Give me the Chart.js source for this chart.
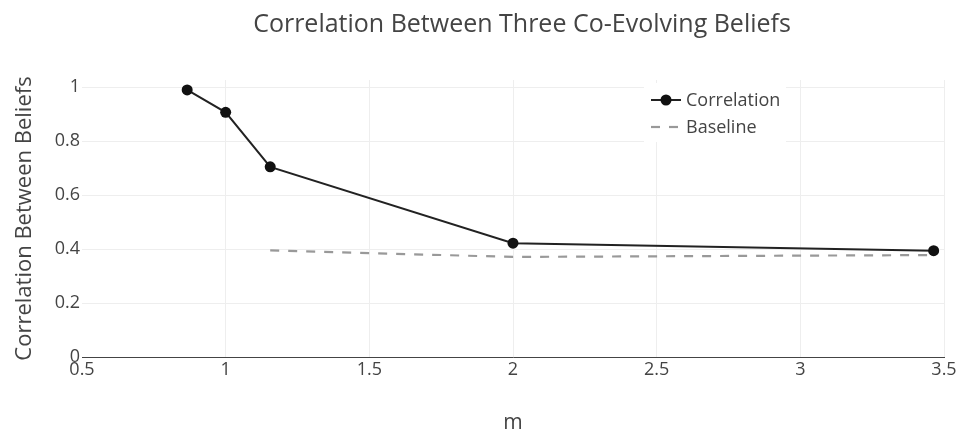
<!DOCTYPE html>
<html lang="en">
<head>
  <meta charset="UTF-8" />
  <title>Correlation Between Three Co-Evolving Beliefs</title>
  <style>
    body {
      margin: 0;
      background-color: #ffffff;
    }
    .wrap {
      width: 960px;
      height: 432px;
    }
  </style>
</head>
<body>
  <div class="wrap">
    <canvas id="corrChart" width="960" height="432"></canvas>
  </div>

  <script src="https://cdn.jsdelivr.net/npm/chart.js"></script>
  <script>
    // values
    const mValues = [0.866, 1.0, 1.155, 2.0, 3.464];
    const correlation = [0.99, 0.907, 0.705, 0.422, 0.394];
    const baselineM = [1.155, 2.0, 3.464];
    const baseline = [0.395, 0.371, 0.378];
    const xTicks = [0.5, 1, 1.5, 2, 2.5, 3, 3.5];
    const yTicks = [0, 0.2, 0.4, 0.6, 0.8, 1];
    const chartTitle = "Correlation Between Three Co-Evolving Beliefs";

    const FONT = "'Open Sans', sans-serif";
    const TEXT = "#444444";

    // title is centred a bit right of the canvas middle, like the original
    const topTitle = {
      id: "topTitle",
      afterDraw(chart) {
        const ctx = chart.ctx;
        ctx.save();
        ctx.fillStyle = TEXT;
        ctx.font = "25px " + FONT;
        ctx.textAlign = "center";
        ctx.textBaseline = "middle";
        ctx.fillText(chartTitle, 522, 25);
        ctx.restore();
      }
    };

    // plotly-like legend sitting inside the plot
    const insideLegend = {
      id: "insideLegend",
      afterDraw(chart) {
        const ctx = chart.ctx;
        ctx.save();
        ctx.fillStyle = "#ffffff";
        ctx.fillRect(644, 83, 142, 59);

        ctx.strokeStyle = "#222222";
        ctx.lineWidth = 2;
        ctx.beginPath();
        ctx.moveTo(651, 100);
        ctx.lineTo(681, 100);
        ctx.stroke();
        ctx.fillStyle = "#111111";
        ctx.beginPath();
        ctx.arc(666, 100, 5.5, 0, Math.PI * 2);
        ctx.fill();

        ctx.strokeStyle = "#999999";
        ctx.lineWidth = 2.2;
        ctx.setLineDash([9, 9]);
        ctx.beginPath();
        ctx.moveTo(651, 127);
        ctx.lineTo(681, 127);
        ctx.stroke();
        ctx.setLineDash([]);

        ctx.fillStyle = TEXT;
        ctx.font = "18px " + FONT;
        ctx.textBaseline = "middle";
        ctx.fillText("Correlation", 686, 101);
        ctx.fillText("Baseline", 686, 128);
        ctx.restore();
      }
    };

    const ctx = document.getElementById("corrChart").getContext("2d");
    new Chart(ctx, {
      type: "line",
      data: {
        datasets: [
          {
            label: "Correlation",
            data: mValues.map((m, i) => ({ x: m, y: correlation[i] })),
            borderColor: "#222222",
            backgroundColor: "#111111",
            borderWidth: 2,
            pointRadius: 5.5,
            pointBorderWidth: 0,
            tension: 0
          },
          {
            label: "Baseline",
            data: baselineM.map((m, i) => ({ x: m, y: baseline[i] })),
            borderColor: "#999999",
            borderWidth: 2.2,
            borderDash: [9, 9],
            pointRadius: 0,
            tension: 0
          }
        ]
      },
      options: {
        responsive: false,
        animation: false,
        layout: { padding: { left: 0, right: 16, top: 80, bottom: 0 } },
        plugins: {
          legend: { display: false },
          tooltip: { enabled: false },
          title: { display: false }
        },
        scales: {
          x: {
            type: "linear",
            min: 0.5,
            max: 3.5,
            afterBuildTicks: axis => { axis.ticks = xTicks.map(v => ({ value: v })); },
            afterFit: axis => { axis.height = 75; },
            ticks: {
              color: TEXT,
              font: { family: FONT, size: 18 },
              padding: 2,
              maxRotation: 0,
              callback: v => String(v)
            },
            grid: {
              drawTicks: false,
              color: c => (c.tick && c.tick.value === 0.5 ? "rgba(0,0,0,0)" : "#eeeeee")
            },
            border: { display: true, color: "#444444", width: 1 },
            title: {
              display: true,
              text: "m",
              color: TEXT,
              font: { family: FONT, size: 21, lineHeight: 0.85 },
              padding: { top: 0, bottom: 0 }
            }
          },
          y: {
            min: 0,
            max: 1.027,
            afterBuildTicks: axis => { axis.ticks = yTicks.map(v => ({ value: v })); },
            afterFit: axis => { axis.width = 82; },
            ticks: {
              color: TEXT,
              font: { family: FONT, size: 18 },
              padding: 2,
              callback: v => String(v)
            },
            grid: { drawTicks: false, color: "#eeeeee" },
            border: { display: false },
            title: {
              display: true,
              text: "Correlation Between Beliefs",
              color: TEXT,
              font: { family: FONT, size: 22, lineHeight: 1 },
              padding: { top: 14, bottom: 0 }
            }
          }
        }
      },
      plugins: [insideLegend, topTitle]
    });
  </script>
</body>
</html>
